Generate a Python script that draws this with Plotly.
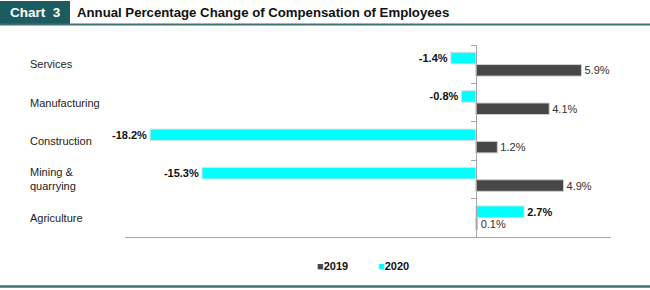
import plotly.graph_objects as go

categories = ["Agriculture", "Mining &<br>quarrying", "Construction", "Manufacturing", "Services"]
cat_keys = ["Agriculture", "Mining & quarrying", "Construction", "Manufacturing", "Services"]
values_2019 = [0.1, 4.9, 1.2, 4.1, 5.9]
values_2020 = [2.7, -15.3, -18.2, -0.8, -1.4]
series_names = ["2019", "2020"]
colors = ["#474747", "#00ffff"]

xmin, xmax = -19.6, 7.55

fig = go.Figure()
fig.add_trace(go.Bar(
    y=cat_keys, x=values_2019, orientation="h", name=series_names[0],
    marker=dict(color=colors[0], line=dict(color="#d0d0d0", width=1)),
    text=[f"{v:.1f}%" for v in values_2019], textposition="outside",
    constraintext="none",
    textfont=dict(family="Liberation Sans, Arial", size=11, color="#333333"),
    cliponaxis=False, showlegend=False,
))
fig.add_trace(go.Bar(
    y=cat_keys, x=values_2020, orientation="h", name=series_names[1],
    marker=dict(color=colors[1], line=dict(color="#e0e0e0", width=1)),
    text=[f"<b>{v:.1f}%</b>" for v in values_2020], textposition="outside",
    constraintext="none",
    textfont=dict(family="Liberation Sans, Arial", size=11, color="#111111"),
    cliponaxis=False, showlegend=False,
))

pos = (0 - xmin) / (xmax - xmin)
PW, PH = 486, 192

def px(x):
    return (x - 125) / PW

def py(y):
    return (237 - y) / PH

annotations = []
for key, lab in zip(cat_keys, categories):
    annotations.append(dict(
        xref="paper", yref="y", x=px(28), y=key, text=lab, showarrow=False,
        xanchor="left", yanchor="middle", align="left",
        font=dict(family="Liberation Sans, Arial", size=11, color="#222222"),
    ))

# header
annotations.append(dict(
    xref="paper", yref="paper", x=px(75), y=py(13),
    text="<b>Annual Percentage Change of Compensation of Employees</b>",
    showarrow=False, xanchor="left", yanchor="middle",
    font=dict(family="Liberation Sans, Arial", size=13.2, color="#111111"),
))
annotations.append(dict(
    xref="paper", yref="paper", x=px(35), y=py(13),
    text="<b>Chart  3</b>", showarrow=False, xanchor="center", yanchor="middle",
    font=dict(family="Liberation Sans, Arial", size=13.5, color="#ffffff"),
))

# legend (manual)
for i, (nm, c) in enumerate(zip(series_names, colors)):
    xs = 315 + i * 61
    annotations.append(dict(
        xref="paper", yref="paper", x=px(xs), y=py(266),
        text=f'<span style="color:{c}">■</span><b>{nm}</b>', showarrow=False,
        xanchor="left", yanchor="middle",
        font=dict(family="Liberation Sans, Arial", size=11, color="#111111"),
    ))

shapes = [
    dict(type="rect", xref="paper", yref="paper",
         x0=px(0), x1=px(70), y0=py(1), y1=py(24.5),
         fillcolor="#1c5c61", line=dict(width=0), layer="below"),
    dict(type="line", xref="paper", yref="paper",
         x0=px(0), x1=px(650), y0=py(24.5), y1=py(24.5),
         line=dict(color="#3f7274", width=2)),
    dict(type="line", xref="paper", yref="paper",
         x0=px(0), x1=px(650), y0=py(286.5), y1=py(286.5),
         line=dict(color="#3f7274", width=2.5)),
]

fig.update_layout(
    width=650, height=290,
    margin=dict(l=125, r=39, t=45, b=53),
    paper_bgcolor="white", plot_bgcolor="white",
    barmode="group", bargap=0.36, bargroupgap=0.06,
    xaxis=dict(range=[xmin, xmax], showgrid=False, zeroline=False,
               showticklabels=False, ticks="", showline=True,
               linecolor="#a6a6a6", linewidth=1, fixedrange=True),
    yaxis=dict(type="category", categoryarray=cat_keys, categoryorder="array",
               showgrid=False, showticklabels=False, anchor="free", position=pos,
               showline=True, linecolor="#a6a6a6", linewidth=1,
               ticks="outside", tickson="boundaries", ticklen=5, tickcolor="#a6a6a6",
               range=[-0.5, 4.5], fixedrange=True),
    annotations=annotations, shapes=shapes,
    font=dict(family="Liberation Sans, Arial"),
)

fig.write_html("out.html")
